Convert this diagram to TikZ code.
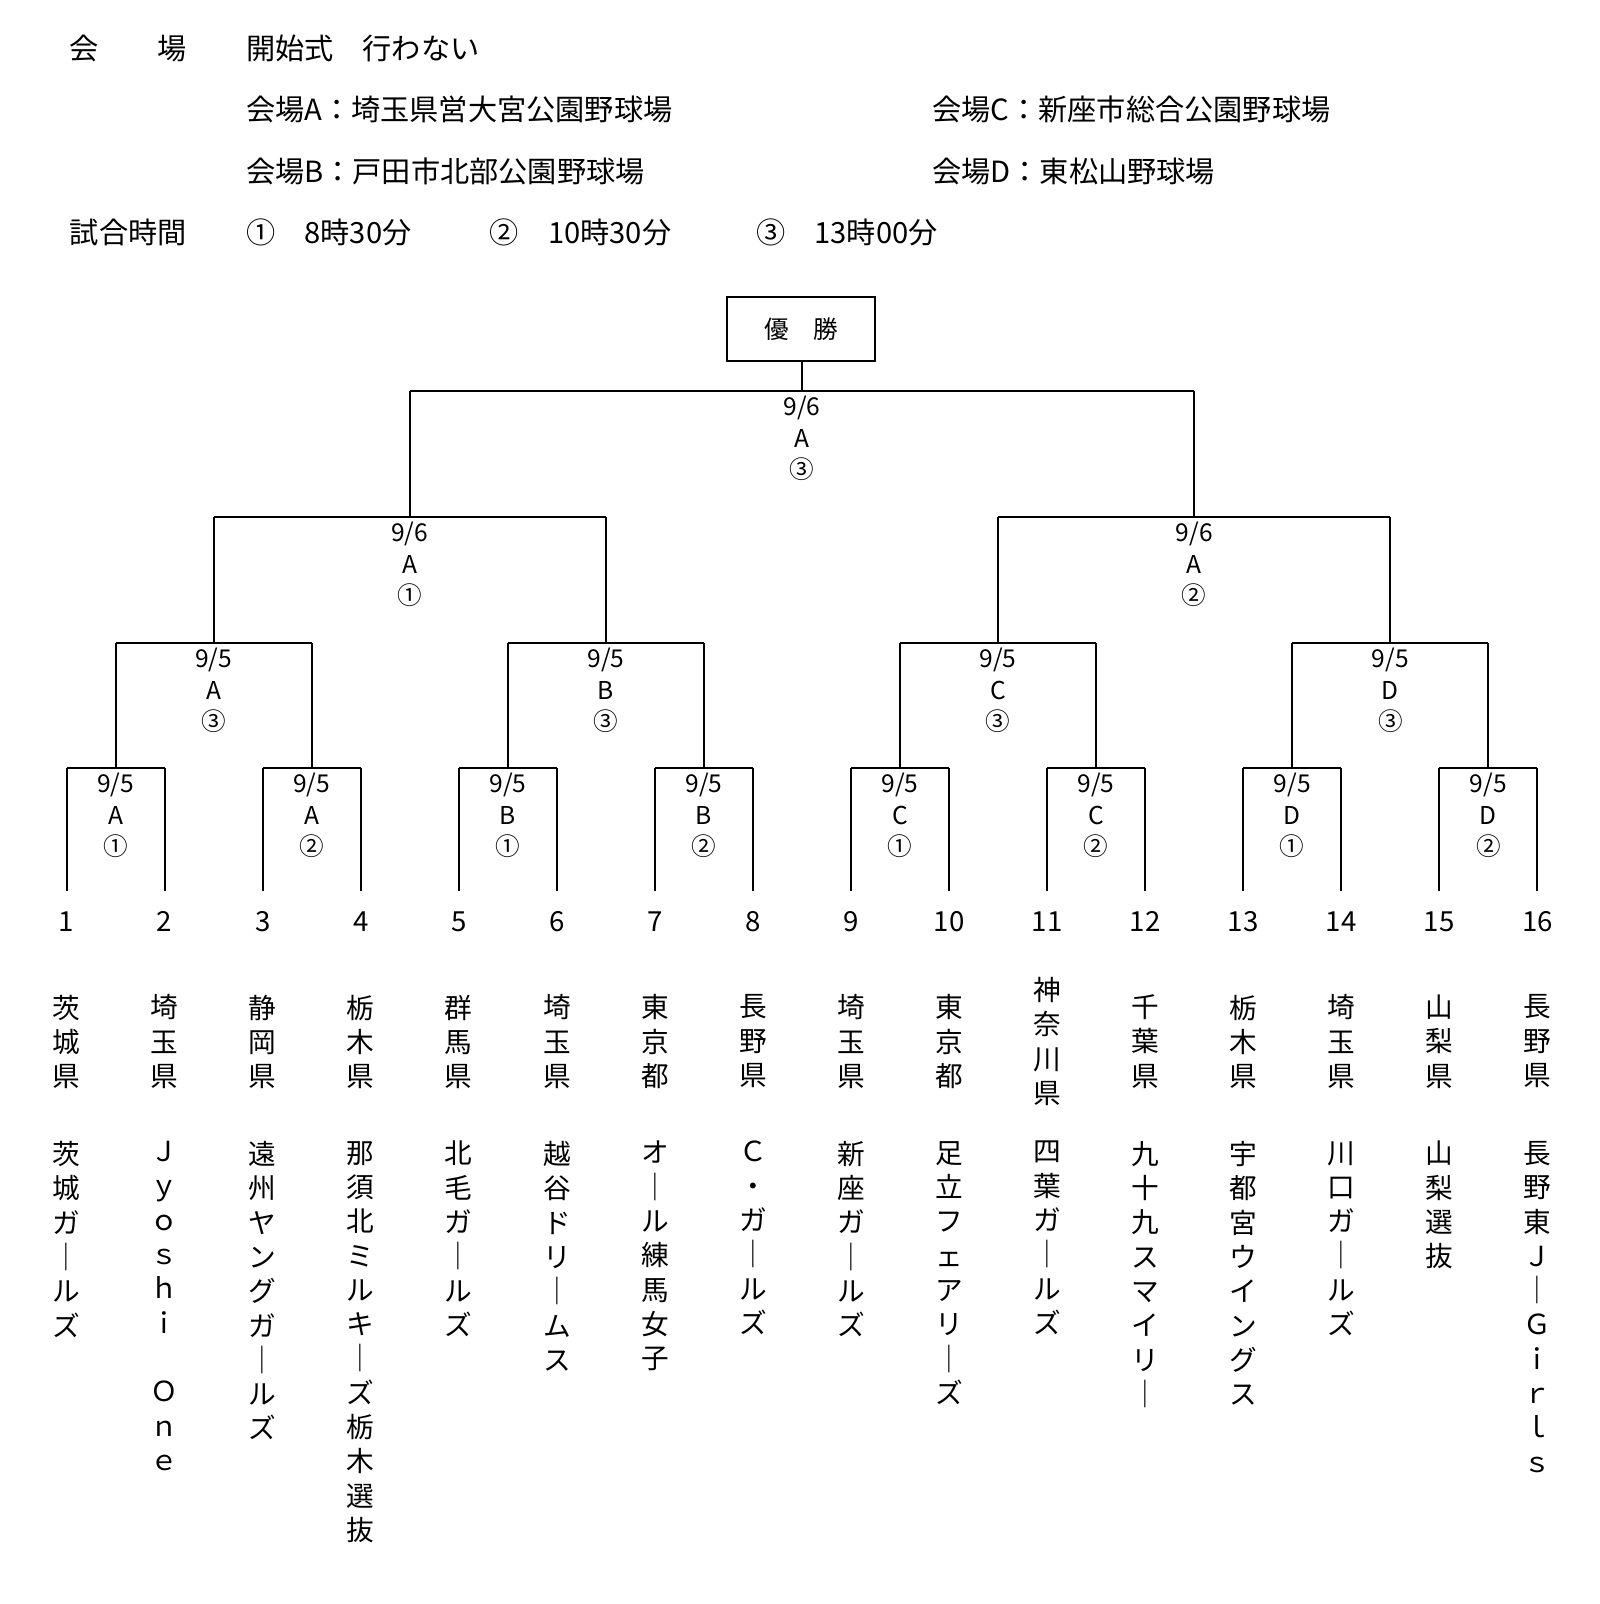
\documentclass[tikz,border=0pt]{standalone}
\usepackage{fontspec}
\setmainfont{Noto Sans CJK JP}
\usetikzlibrary{calc}
\begin{document}
\begin{tikzpicture}[x=1pt,y=-1pt,
  ln/.style={line width=2pt,black},
  hd/.style={anchor=west,inner sep=0,font=\fontsize{28.5}{30}\selectfont},
  lb/.style={inner sep=0,anchor=center,align=center,font=\fontsize{24}{30.5}\selectfont},
  num/.style={inner sep=0,font=\fontsize{27}{30}\selectfont},
  vt/.style={inner sep=0,anchor=north,align=center,font=\fontsize{27}{33.5}\selectfont}]
\useasboundingbox (0,0) rectangle (1562,1566);
% header
\node[hd] (h1) at (68,47) {会\hspace{2em}場};
\node[hd] (h2) at (240,47) {開始式　行わない};
\node[hd] (h3) at (240,107) {会場A：埼玉県営大宮公園野球場};
\node[hd] (h4) at (910,107) {会場C：新座市総合公園野球場};
\node[hd] (h5) at (240,167) {会場B：戸田市北部公園野球場};
\node[hd] (h6) at (910,167) {会場D：東松山野球場};
\node[hd] (h7) at (68,227) {試合時間};
\node[hd] (h8) at (240,227) {①　8時30分};
\node[hd] (h9) at (478,227) {②　10時30分};
\node[hd] (h10) at (738,227) {③　13時00分};
% champion
\node[draw,line width=2pt,minimum width=144,minimum height=62,inner sep=0,font=\fontsize{24}{28}\selectfont] (win) at (782,321) {優　勝};
% leaves
\foreach \i in {1,...,16}{
  \pgfmathsetmacro{\xx}{65+(\i-1)*95.73}
  \coordinate (L\i) at (\xx,870);
  \coordinate (T\i) at (\xx,750);
  \node[num] (n\i) at (\xx,900) {\i};
  \draw[ln] (L\i) -- (T\i);
}
% round 1
\foreach \m/\a/\b/\v/\s in {1/1/2/A/①,2/3/4/A/②,3/5/6/B/①,4/7/8/B/②,5/9/10/C/①,6/11/12/C/②,7/13/14/D/①,8/15/16/D/②}{
  \draw[ln] (T\a) -- (T\b);
  \coordinate (M\m) at ($(T\a)!0.5!(T\b)$);
  \node[lb] (r1l\m) at ($(M\m)+(0,46)$) {9/5\\\v\\\s};
  \coordinate (U\m) at ($(M\m)+(0,-122)$);
  \draw[ln] (M\m) -- (U\m);
}
% round 2
\foreach \m/\a/\b/\v in {1/1/2/A,2/3/4/B,3/5/6/C,4/7/8/D}{
  \draw[ln] (U\a) -- (U\b);
  \coordinate (N\m) at ($(U\a)!0.5!(U\b)$);
  \node[lb] (r2l\m) at ($(N\m)+(0,46)$) {9/5\\\v\\③};
  \coordinate (V\m) at ($(N\m)+(0,-123)$);
  \draw[ln] (N\m) -- (V\m);
}
% round 3
\foreach \m/\a/\b/\s in {1/1/2/①,2/3/4/②}{
  \draw[ln] (V\a) -- (V\b);
  \coordinate (P\m) at ($(V\a)!0.5!(V\b)$);
  \node[lb] (r3l\m) at ($(P\m)+(0,46)$) {9/6\\A\\\s};
  \coordinate (W\m) at ($(P\m)+(0,-123)$);
  \draw[ln] (P\m) -- (W\m);
}
% final
\draw[ln] (W1) -- (W2);
\coordinate (F) at ($(W1)!0.5!(W2)$);
\node[lb] (fl) at ($(F)+(0,46)$) {9/6\\A\\③};
\draw[ln] (F) -- (F |- win.south);
% prefectures
\foreach \i/\t in {1/{茨\\城\\県},2/{埼\\玉\\県},3/{静\\岡\\県},4/{栃\\木\\県},5/{群\\馬\\県},6/{埼\\玉\\県},7/{東\\京\\都},8/{長\\野\\県},9/{埼\\玉\\県},10/{東\\京\\都},12/{千\\葉\\県},13/{栃\\木\\県},14/{埼\\玉\\県},15/{山\\梨\\県},16/{長\\野\\県}}{
  \node[vt] (p\i) at ($(L\i)+(0,101)$) {\t};
}
\node[vt] (p11) at ($(L11)+(0,84)$) {神\\奈\\川\\県};
% teams
\foreach \i/\t in {
 1/{茨\\城\\ガ\\｜\\ル\\ズ},
 2/{Ｊ\\ｙ\\ｏ\\ｓ\\ｈ\\ｉ\\\\Ｏ\\ｎ\\ｅ},
 3/{遠\\州\\ヤ\\ン\\グ\\ガ\\｜\\ル\\ズ},
 4/{那\\須\\北\\ミ\\ル\\キ\\｜\\ズ\\栃\\木\\選\\抜},
 5/{北\\毛\\ガ\\｜\\ル\\ズ},
 6/{越\\谷\\ド\\リ\\｜\\ム\\ス},
 7/{オ\\｜\\ル\\練\\馬\\女\\子},
 8/{Ｃ\\・\\ガ\\｜\\ル\\ズ},
 9/{新\\座\\ガ\\｜\\ル\\ズ},
 10/{足\\立\\フ\\ェ\\ア\\リ\\｜\\ズ},
 11/{四\\葉\\ガ\\｜\\ル\\ズ},
 12/{九\\十\\九\\ス\\マ\\イ\\リ\\｜},
 13/{宇\\都\\宮\\ウ\\イ\\ン\\グ\\ス},
 14/{川\\口\\ガ\\｜\\ル\\ズ},
 15/{山\\梨\\選\\抜},
 16/{長\\野\\東\\Ｊ\\｜\\Ｇ\\ｉ\\ｒ\\ｌ\\ｓ}}{
  \node[vt] (t\i) at ($(L\i)+(0,244)$) {\t};
}
\end{tikzpicture}
\end{document}
